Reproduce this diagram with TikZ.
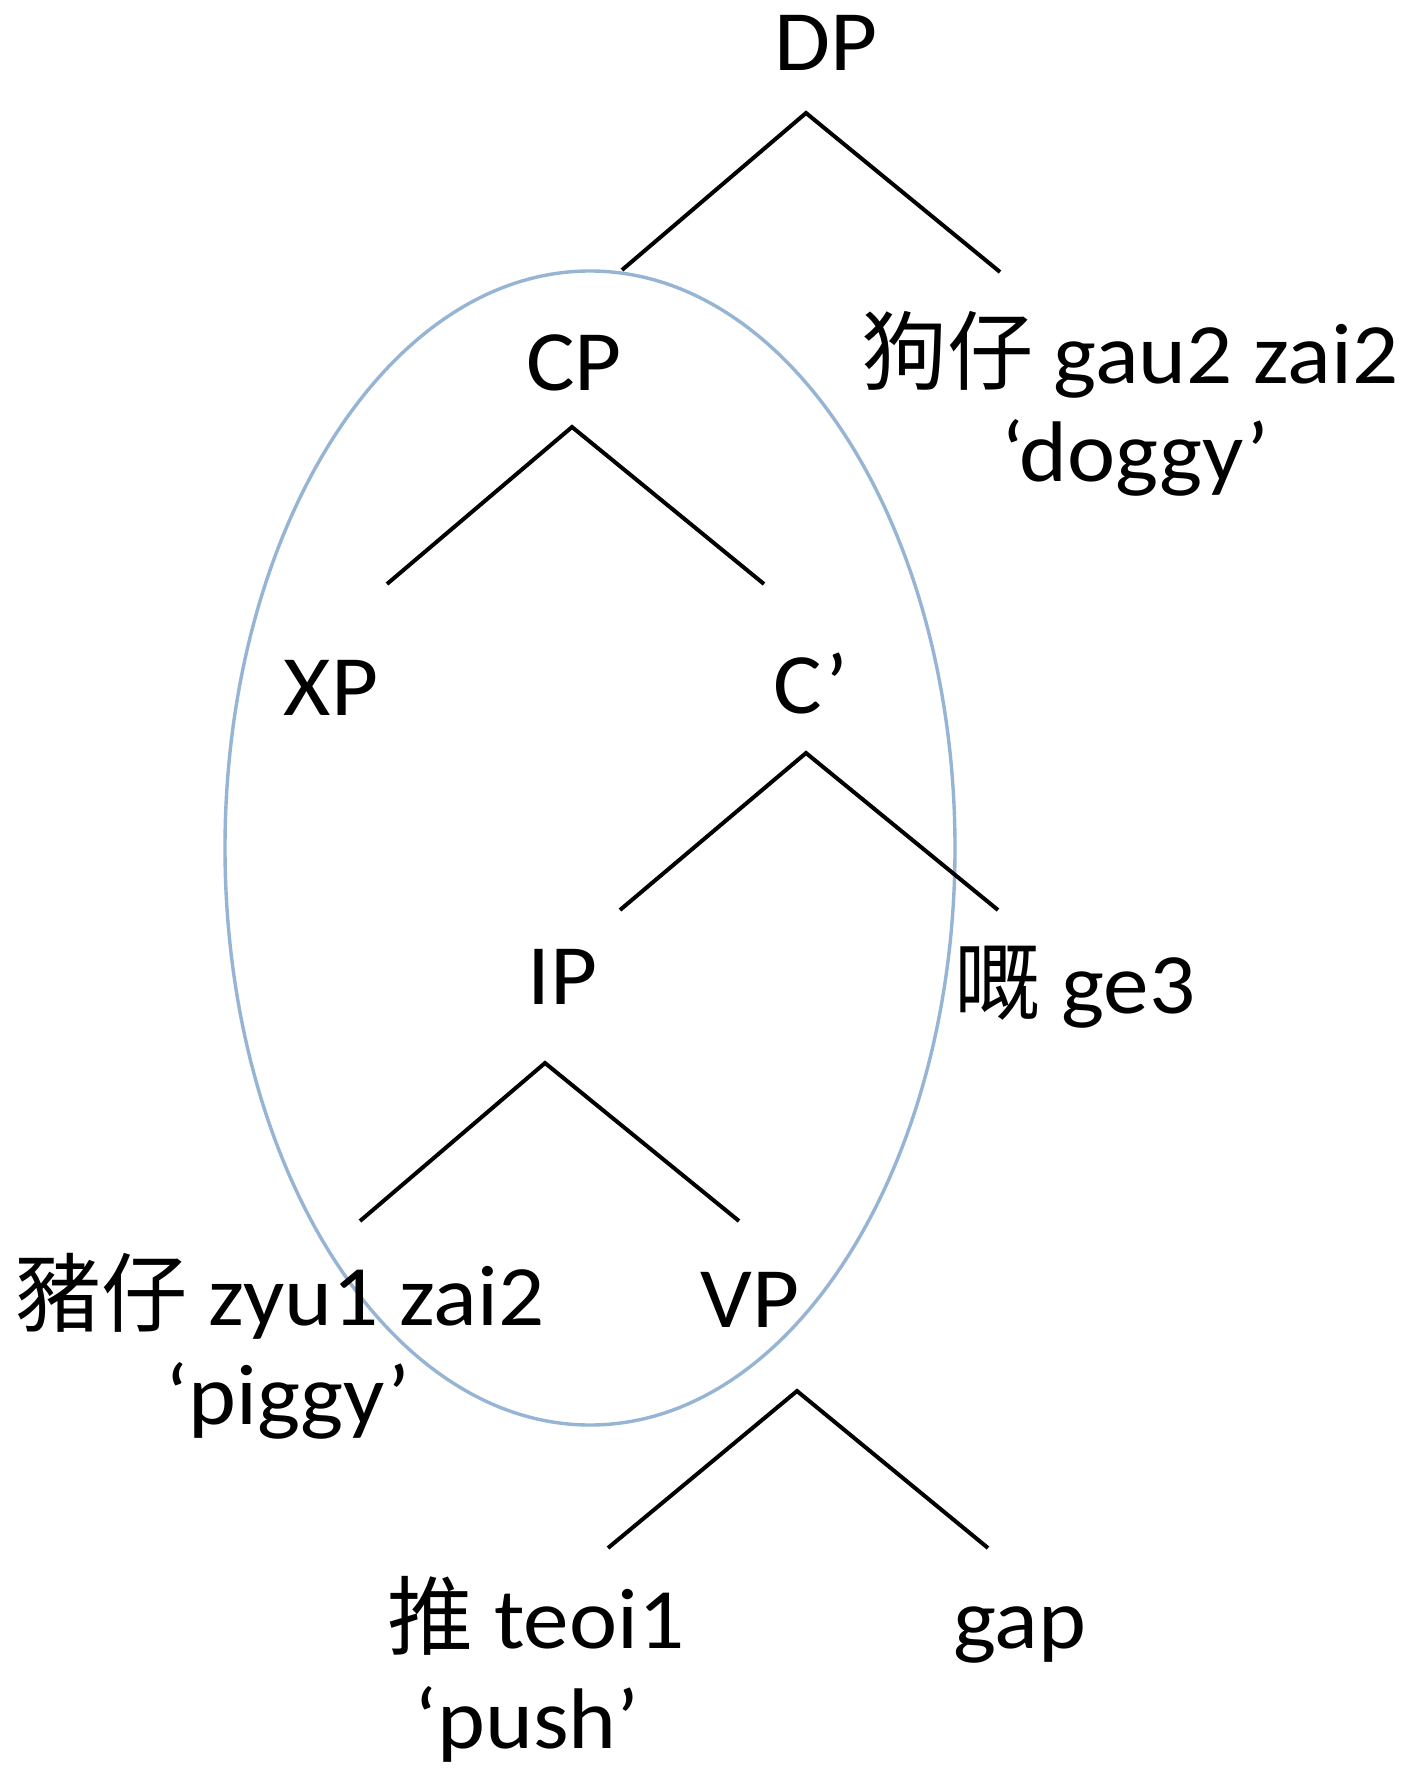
\documentclass[tikz,border=0pt]{standalone}
\usepackage{fontspec}
\setmainfont{Carlito}[FakeStretch=1.06]
\newfontfamily\cjk{Noto Sans CJK TC}
\definecolor{ellblue}{RGB}{150,180,212}
\begin{document}
\begin{tikzpicture}[x=1pt,y=-1pt,
  lbl/.style={anchor=base, inner sep=0pt, font=\fontsize{86}{100}\selectfont},
  branch/.style={draw=black, line width=4pt}]
\useasboundingbox (0,0) rectangle (1412,1787);
\fill[white] (0,0) rectangle (1412,1787);
% highlight ellipse
\draw[ellblue, line width=3.4pt] (590,848) ellipse [x radius=365, y radius=577];
% labels
\node[lbl] (DP) at (826,71) {DP};
\node[lbl] (CP) at (574,390) {CP};
\node[lbl] (dog) at (1130,383) {{\cjk 狗仔} gau2 zai2};
\node[lbl] (dogg) at (1135,481) {‘doggy’};
\node[lbl] (XP) at (331,715) {XP};
\node[lbl] (Cbar) at (811,713) {C’};
\node[lbl] (IP) at (563,1004) {IP};
\node[lbl] (ge) at (1075,1013) {{\cjk 嘅} ge3};
\node[lbl] (pig) at (280,1325) {{\cjk 豬仔} zyu1 zai2};
\node[lbl] (pigg) at (288,1424) {‘piggy’};
\node[lbl] (VP) at (750,1327) {VP};
\node[lbl] (push) at (536,1648) {{\cjk 推} teoi1};
\node[lbl] (pushg) at (527,1748) {‘push’};
\node[lbl] (gap) at (1020,1648) {gap};
% branch points
\coordinate (DPa) at (806,113);  \coordinate (DPl) at (622,270);  \coordinate (DPr) at (1000,272);
\coordinate (CPa) at (572,427);  \coordinate (CPl) at (387,584);  \coordinate (CPr) at (764,584);
\coordinate (Ca) at (806,753);   \coordinate (Cl) at (620,910);   \coordinate (Cr) at (998,910);
\coordinate (IPa) at (545,1063); \coordinate (IPl) at (360,1221); \coordinate (IPr) at (739,1221);
\coordinate (VPa) at (797,1391); \coordinate (VPl) at (608,1548); \coordinate (VPr) at (988,1548);
\draw[branch] (DPl) -- (DPa) -- (DPr);
\draw[branch] (CPl) -- (CPa) -- (CPr);
\draw[branch] (Cl) -- (Ca) -- (Cr);
\draw[branch] (IPl) -- (IPa) -- (IPr);
\draw[branch] (VPl) -- (VPa) -- (VPr);
\end{tikzpicture}
\end{document}
